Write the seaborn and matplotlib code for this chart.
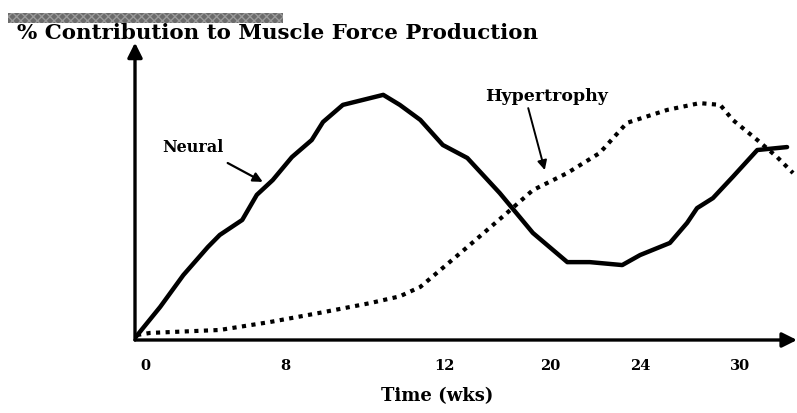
import matplotlib
matplotlib.use("Agg")
import matplotlib.pyplot as plt
import seaborn as sns

# ---------------- data ----------------
# x = position along the time axis (0-100), y = % contribution (0-100)
neural_x = [0, 3.8, 7.3, 11.0, 12.8, 16.2, 18.4, 20.8, 23.7, 26.7, 28.4, 31.4, 37.5,
            40.0, 43.1, 46.5, 50.2, 55.1, 60.1, 65.3, 68.7, 73.6, 76.3, 80.8, 83.4,
            84.9, 87.3, 90.3, 94.0, 98.5]
neural_y = [0.7, 11.2, 22.0, 31.5, 35.6, 40.7, 49.2, 54.2, 62.0, 67.8, 73.9, 79.7, 83.1,
            79.7, 74.6, 66.1, 61.7, 49.8, 36.3, 26.4, 26.4, 25.4, 28.8, 32.9, 39.7,
            44.7, 48.1, 55.3, 64.4, 65.4]

hyper_x = [0.3, 2.3, 12.8, 20.4, 27.9, 35.5, 40.0, 43.1, 46.0, 50.2, 56.2, 60.1, 65.3,
           70.2, 74.3, 80.4, 85.3, 88.4, 90.3, 94.0, 97.0, 99.4]
hyper_y = [1.7, 2.4, 3.4, 6.1, 9.2, 12.5, 14.8, 18.0, 23.5, 31.5, 43.1, 50.8, 56.6,
           63.4, 73.6, 78.0, 80.3, 79.7, 74.6, 67.8, 62.0, 56.6]

week_labels = ["0", "8", "12", "20", "24", "30"]
week_pos = [1.5, 22.7, 46.8, 62.7, 76.3, 91.4]

title = "% Contribution to Muscle Force Production"
xlabel = "Time (wks)"

# ---------------- plot ----------------
sns.set_style("white")
plt.rcParams["font.family"] = ["DejaVu Serif"]
plt.rcParams["text.color"] = "black"
plt.rcParams["xtick.color"] = "black"
plt.rcParams["axes.labelcolor"] = "black"

W, H = 797, 413
fig = plt.figure(figsize=(W / 100, H / 100), dpi=100)
ax = fig.add_axes([135 / W, (H - 340) / H, 662 / W, 295 / H])
ax.set_xlim(0, 100)
ax.set_ylim(0, 100)

sns.lineplot(x=neural_x, y=neural_y, ax=ax, color="black", lw=3.2,
             estimator=None, sort=False, solid_joinstyle="round")
sns.lineplot(x=hyper_x, y=hyper_y, ax=ax, color="black", lw=3.0,
             estimator=None, sort=False, linestyle=(0, (1, 1.3)),
             dash_capstyle="butt")

# axes drawn as arrows
for s in ax.spines.values():
    s.set_visible(False)
arrow = dict(arrowstyle="-|>", lw=2.4, color="black", mutation_scale=22,
             shrinkA=0, shrinkB=0)
ax.annotate("", xy=(100, 0), xytext=(0, 0), arrowprops=arrow, annotation_clip=False)
ax.annotate("", xy=(0, 100.8), xytext=(0, 0), arrowprops=arrow, annotation_clip=False)

ax.set_yticks([])
ax.set_xticks(week_pos)
ax.set_xticklabels(week_labels, fontsize=10.5, fontweight="bold")
ax.tick_params(axis="x", length=0, pad=14)
ax.set_xlabel(xlabel, fontsize=13, fontweight="bold")
ax.xaxis.set_label_coords(0.456, -0.16)

# curve labels
ax.text(8.8, 65.4, "Neural", fontsize=11.5, fontweight="bold", ha="center", va="center")
ax.annotate("", xy=(19.3, 53.6), xytext=(14.0, 60.0),
            arrowprops=dict(arrowstyle="-|>", lw=1.6, color="black", mutation_scale=14,
                            shrinkA=0, shrinkB=0))
ax.text(62.2, 82.4, "Hypertrophy", fontsize=12.5, fontweight="bold", ha="center", va="center")
ax.annotate("", xy=(61.9, 57.6), xytext=(59.4, 78.6),
            arrowprops=dict(arrowstyle="-|>", lw=1.4, color="black", mutation_scale=14,
                            shrinkA=0, shrinkB=0))

# title with the grey bar above it
fig.patches.append(plt.Rectangle((8 / W, (H - 23) / H), 275 / W, 10 / H,
                                 transform=fig.transFigure, facecolor="#6b6b6b",
                                 edgecolor="#9a9a9a", hatch="xxxx", lw=0))
fig.text(17 / W, (H - 33) / H, title, fontsize=15.4, fontweight="bold",
         ha="left", va="center")

fig.savefig("out.png", dpi=100)
